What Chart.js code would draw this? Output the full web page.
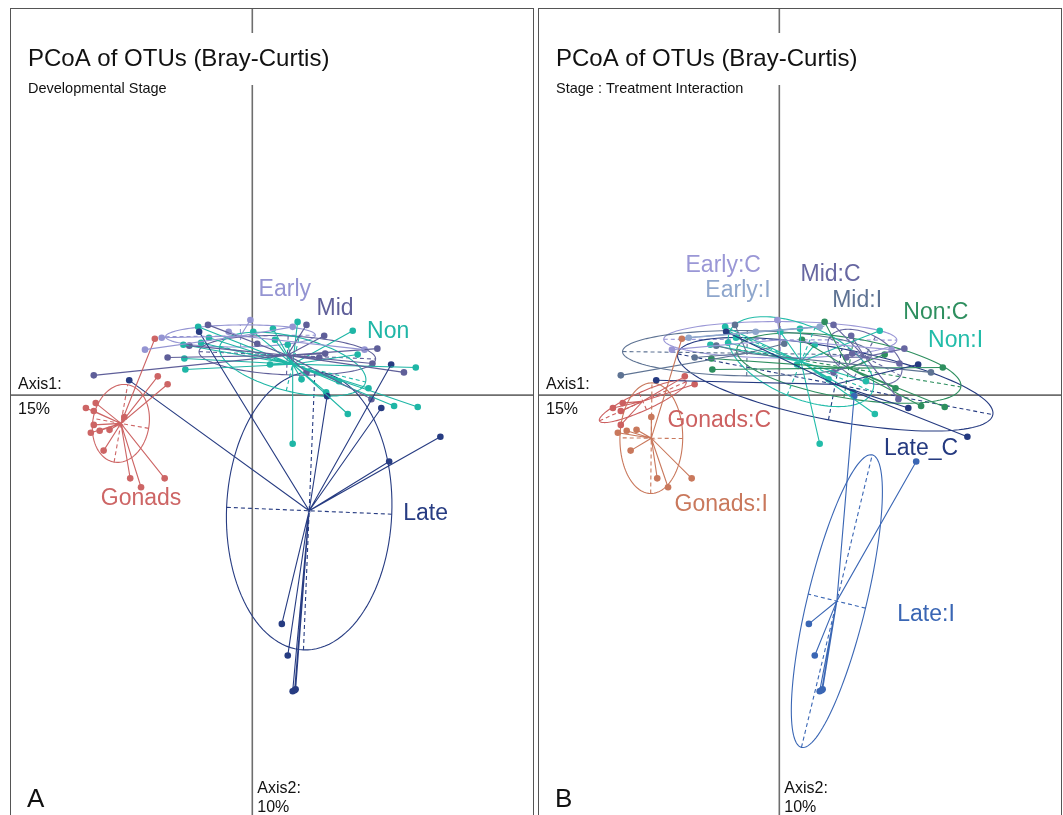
<!DOCTYPE html>
<html>
<head>
<meta charset="utf-8">
<script src="https://cdn.jsdelivr.net/npm/chart.js@4.4.0/dist/chart.umd.min.js"></script>
<style>
body { margin: 0; background: #fff; width: 1063px; height: 815px; overflow: hidden; position: relative; }
.panel { position: absolute; top: 8px; height: 830px; border: 1px solid #555; box-sizing: border-box; }
#pa { left: 10px; width: 524px; }
#pb { left: 538px; width: 524px; }
canvas { position: absolute; left: 0; top: 0; }
</style>
</head>
<body>
<div class="panel" id="pa"><canvas id="chartA" width="522" height="807"></canvas></div>
<div class="panel" id="pb"><canvas id="chartB" width="522" height="807"></canvas></div>
<script>
// sample scores on the first two PCoA axes
const sampleX = [
  -0.192, -0.172, -0.338, -0.322, -0.318, -0.322,                          // Gonads C
  -0.198, -0.260, -0.310, -0.290, -0.328, -0.302, -0.248, -0.226, -0.178,  // Gonads I
  -0.250, -0.108, 0.282, 0.262, 0.382,                                     // Late C
  0.152, 0.278, 0.060, 0.072, 0.082, 0.088, 0.086,                         // Late I
  -0.004, -0.218, 0.228,                                                   // Early C
  -0.048, -0.184, 0.082,                                                   // Early I
  0.110, 0.146, 0.254, 0.244, 0.242, 0.148, 0.136, 0.110,                  // Mid C
  -0.090, -0.128, -0.172, -0.322, 0.010, 0.308,                            // Mid I
  0.092, 0.046, 0.214, 0.332, 0.236, 0.288, 0.336, -0.138, -0.136,         // Non C
  -0.110, 0.002, 0.042, -0.140, -0.088, -0.104, 0.036, 0.204, 0.072, 0.100, 0.176, 0.150, 0.194, 0.082 // Non I
];
const sampleY = [
  0.038, 0.022, -0.026, -0.032, -0.016, -0.060,
  0.114, -0.044, -0.072, -0.070, -0.076, -0.112, -0.168, -0.186, -0.168,
  0.030, 0.128, 0.062, -0.026, -0.084,
  -0.002, -0.134, -0.462, -0.526, -0.598, -0.594, -0.596,
  0.152, 0.092, 0.092,
  0.128, 0.116, 0.138,
  0.142, 0.120, 0.094, 0.064, -0.008, 0.084, 0.076, 0.046,
  0.142, 0.100, 0.076, 0.040, 0.104, 0.046,
  0.148, 0.112, 0.082, 0.056, 0.014, -0.022, -0.024, 0.074, 0.052,
  0.138, 0.128, 0.134, 0.102, 0.116, 0.106, 0.062, 0.130, 0.102, 0.032, 0.028, 0.006, -0.038, -0.098
];
const stage = [
  'Gonads','Gonads','Gonads','Gonads','Gonads','Gonads',
  'Gonads','Gonads','Gonads','Gonads','Gonads','Gonads','Gonads','Gonads','Gonads',
  'Late','Late','Late','Late','Late',
  'Late','Late','Late','Late','Late','Late','Late',
  'Early','Early','Early',
  'Early','Early','Early',
  'Mid','Mid','Mid','Mid','Mid','Mid','Mid','Mid',
  'Mid','Mid','Mid','Mid','Mid','Mid',
  'Non','Non','Non','Non','Non','Non','Non','Non','Non',
  'Non','Non','Non','Non','Non','Non','Non','Non','Non','Non','Non','Non','Non','Non'
];
const treatment = [
  'C','C','C','C','C','C',
  'I','I','I','I','I','I','I','I','I',
  'C','C','C','C','C',
  'I','I','I','I','I','I','I',
  'C','C','C',
  'I','I','I',
  'C','C','C','C','C','C','C','C',
  'I','I','I','I','I','I',
  'C','C','C','C','C','C','C','C','C',
  'I','I','I','I','I','I','I','I','I','I','I','I','I','I'
];

// panel A : stage
const groupsA = ['Early', 'Gonads', 'Late', 'Mid', 'Non'];
const colorsA = ['#9494d2', '#cd6565', '#273c82', '#5f5f99', '#1fb6a6'];
const labelsA = ['Early', 'Gonads', 'Late', 'Mid', 'Non'];
const labelXA = [0.066, -0.226, 0.352, 0.168, 0.276];
const labelYA = [0.214, -0.210, -0.240, 0.174, 0.128];

// panel B : stage x treatment
const groupsB = ['Early:C', 'Early:I', 'Gonads:C', 'Gonads:I', 'Late:C', 'Late:I', 'Mid:C', 'Mid:I', 'Non:C', 'Non:I'];
const colorsB = ['#9a97d6', '#8ea6cc', '#cc6060', '#c9785c', '#253a80', '#3a66b4', '#6767a1', '#5e7393', '#2e8f5f', '#22bca9'];
const labelsB = ['Early:C', 'Early:I', 'Gonads:C', 'Gonads:I', 'Late_C', 'Late:I', 'Mid:C', 'Mid:I', 'Non:C', 'Non:I'];
const labelXB = [-0.114, -0.084, -0.122, -0.118, 0.288, 0.298, 0.104, 0.158, 0.318, 0.358];
const labelYB = [0.262, 0.212, -0.052, -0.222, -0.108, -0.444, 0.244, 0.190, 0.166, 0.110];

function groupStats(keys, g) {
  const xs = [], ys = [];
  keys.forEach((k, i) => { if (k === g) { xs.push(sampleX[i]); ys.push(sampleY[i]); } });
  const n = xs.length;
  const mx = xs.reduce((a, b) => a + b, 0) / n;
  const my = ys.reduce((a, b) => a + b, 0) / n;
  let vx = 0, vy = 0, cxy = 0;
  for (let i = 0; i < n; i++) {
    vx += (xs[i] - mx) ** 2; vy += (ys[i] - my) ** 2; cxy += (xs[i] - mx) * (ys[i] - my);
  }
  vx /= n; vy /= n; cxy /= n;
  const h = (vx + vy) / 2, r = Math.sqrt(((vx - vy) / 2) ** 2 + cxy ** 2);
  const th = 0.5 * Math.atan2(2 * cxy, vx - vy);
  return { xs, ys, mx, my, a: Math.sqrt(h + r), b: Math.sqrt(Math.max(h - r, 0)), th };
}

function makeChart(id, keys, groups, colors, labels, lx, ly, xmin, xmax, texts) {
  const stats = groups.map(g => groupStats(keys, g));
  const datasets = [];
  stats.forEach((s, gi) => {
    const star = [];
    s.xs.forEach((x, i) => { star.push({ x: s.mx, y: s.my }); star.push({ x: x, y: s.ys[i] }); });
    datasets.push({ data: star, showLine: true, borderColor: colors[gi], borderWidth: 1.1, pointRadius: 0, fill: false });
  });
  stats.forEach((s, gi) => {
    datasets.push({
      data: s.xs.map((x, i) => ({ x: x, y: s.ys[i] })),
      pointRadius: 3.3, pointBackgroundColor: colors[gi], pointBorderWidth: 0, showLine: false
    });
  });

  const decor = {
    id: 'decor',
    beforeDatasetsDraw(chart) {
      const ctx = chart.ctx, xs = chart.scales.x, ys = chart.scales.y;
      const px = v => xs.getPixelForValue(v), py = v => ys.getPixelForValue(v);
      const k = texts.ell;
      ctx.save();
      ctx.strokeStyle = '#6e6e6e'; ctx.lineWidth = 1.6;
      ctx.beginPath();
      ctx.moveTo(px(0), 0); ctx.lineTo(px(0), chart.height);
      ctx.moveTo(0, py(0)); ctx.lineTo(chart.width, py(0));
      ctx.stroke();
      stats.forEach((s, gi) => {
        ctx.strokeStyle = colors[gi]; ctx.lineWidth = 1.1;
        const c = Math.cos(s.th), sn = Math.sin(s.th);
        const a = s.a * k, b = s.b * k;
        ctx.setLineDash([]);
        ctx.beginPath();
        for (let j = 0; j <= 120; j++) {
          const t = j / 120 * Math.PI * 2;
          const u = a * Math.cos(t), w = b * Math.sin(t);
          const X = px(s.mx + u * c - w * sn), Y = py(s.my + u * sn + w * c);
          if (j === 0) ctx.moveTo(X, Y); else ctx.lineTo(X, Y);
        }
        ctx.stroke();
        ctx.setLineDash([4, 3]);
        ctx.beginPath();
        ctx.moveTo(px(s.mx - a * c), py(s.my - a * sn));
        ctx.lineTo(px(s.mx + a * c), py(s.my + a * sn));
        ctx.moveTo(px(s.mx + b * sn), py(s.my - b * c));
        ctx.lineTo(px(s.mx - b * sn), py(s.my + b * c));
        ctx.stroke();
      });
      ctx.restore();
    },
    afterDraw(chart) {
      const ctx = chart.ctx, xs = chart.scales.x, ys = chart.scales.y;
      ctx.save();
      ctx.textAlign = 'center'; ctx.textBaseline = 'middle';
      ctx.font = '23px "Liberation Sans", Arial, sans-serif';
      labels.forEach((t, gi) => {
        ctx.fillStyle = colors[gi];
        ctx.fillText(t, xs.getPixelForValue(lx[gi]), ys.getPixelForValue(ly[gi]));
      });
      // title block
      ctx.textAlign = 'left'; ctx.textBaseline = 'alphabetic';
      ctx.fillStyle = '#fff';
      ctx.fillRect(12, 24, 320, 52);
      ctx.fillStyle = '#111';
      ctx.font = '24px "Liberation Sans", Arial, sans-serif';
      ctx.fillText('PCoA of OTUs (Bray-Curtis)', 17, 57);
      ctx.font = '14.5px "Liberation Sans", Arial, sans-serif';
      ctx.fillText(texts.sub, 17, 84);
      ctx.font = '16px "Liberation Sans", Arial, sans-serif';
      ctx.fillText('Axis1:', 7, 380);
      ctx.fillText('15%', 7, 405);
      const ax = xs.getPixelForValue(0);
      ctx.fillText('Axis2:', ax + 5, 784);
      ctx.fillText('10%', ax + 5, 803);
      ctx.font = '26px "Liberation Sans", Arial, sans-serif';
      ctx.fillText(texts.tag, 16, 798);
      ctx.restore();
    }
  };

  return new Chart(document.getElementById(id), {
    type: 'scatter',
    data: { datasets: datasets },
    options: {
      responsive: false,
      animation: false,
      layout: { padding: 0 },
      plugins: { legend: { display: false }, tooltip: { enabled: false } },
      scales: {
        x: { type: 'linear', display: false, min: xmin, max: xmax },
        y: { type: 'linear', display: false, min: -0.842, max: 0.772 }
      }
    },
    plugins: [decor]
  });
}

const keysA = stage;
const keysB = stage.map((s, i) => s + ':' + treatment[i]);

makeChart('chartA', keysA, groupsA, colorsA, labelsA, labelXA, labelYA, -0.482, 0.562,
  { sub: 'Developmental Stage', tag: 'A', ell: 1.0 });
makeChart('chartB', keysB, groupsB, colorsB, labelsB, labelXB, labelYB, -0.480, 0.564,
  { sub: 'Stage : Treatment Interaction', tag: 'B', ell: 1.3 });
</script>
</body>
</html>
